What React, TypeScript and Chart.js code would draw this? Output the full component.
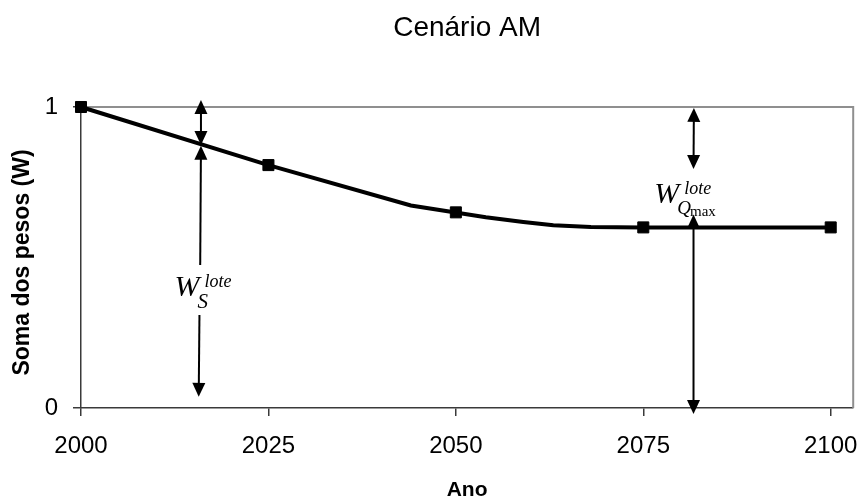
import React, { useEffect, useRef } from "react";
import { Chart, registerables } from "chart.js";

Chart.register(...registerables);

// ---- texts ----
const TITLE = "Cenário AM";
const X_TITLE = "Ano";
const Y_TITLE = "Soma dos pesos (W)";

// ---- data ----
const curveYears = [2000, 2025, 2044, 2054, 2059, 2063, 2068, 2075, 2100];
const curveValues = [1.0, 0.807, 0.673, 0.634, 0.618, 0.607, 0.601, 0.6, 0.6];
const markerYears = [2000, 2025, 2050, 2075, 2100];
const markerValues = [1.0, 0.807, 0.65, 0.6, 0.6];
const xTickValues = [2000, 2025, 2050, 2075, 2100];
const yTickValues = [0, 1];
const xMin = 2000;
const xMax = 2103;
const yMin = 0;
const yMax = 1;

// ---- annotation arrows (data units) ----
const arrowStartYears = [2016, 2016, 2015.8, 2081.75, 2081.7];
const arrowStartValues = [1.023, 0.871, 0.309, 0.997, 0.643];
const arrowEndYears = [2016, 2015.9, 2015.7, 2081.7, 2081.7];
const arrowEndValues = [0.874, 0.475, 0.037, 0.794, -0.02];
const arrowHeadStart = [true, true, false, true, true];
const arrowHeadEnd = [true, false, true, true, true];

// ---- annotation labels (anchor = left/baseline of the "W") ----
const labelYears = [2012.6, 2076.6];
const labelValues = [0.375, 0.684];
const labelSubs = ["S", "Q"];
const labelSubExtra = ["", "max"];
const labelSup = "lote";

const SANS = '"Liberation Sans", Arial, Helvetica, sans-serif';
const SERIF = '"Liberation Serif", "Times New Roman", Times, serif';
const AXIS_COLOR = "#3a3a3a";
const FRAME_COLOR = "#8f8f8f";

function drawArrow(
  ctx: CanvasRenderingContext2D,
  x1: number,
  y1: number,
  x2: number,
  y2: number,
  h1: boolean,
  h2: boolean
) {
  const L = 14;
  const W = 6.5;
  const dx = x2 - x1;
  const dy = y2 - y1;
  const len = Math.hypot(dx, dy) || 1;
  const ux = dx / len;
  const uy = dy / len;
  const px = -uy;
  const py = ux;
  const sx = h1 ? x1 + ux * (L - 2) : x1;
  const sy = h1 ? y1 + uy * (L - 2) : y1;
  const ex = h2 ? x2 - ux * (L - 2) : x2;
  const ey = h2 ? y2 - uy * (L - 2) : y2;
  ctx.save();
  ctx.strokeStyle = "#000";
  ctx.fillStyle = "#000";
  ctx.lineWidth = 2;
  ctx.beginPath();
  ctx.moveTo(sx, sy);
  ctx.lineTo(ex, ey);
  ctx.stroke();
  const head = (tx: number, ty: number, dirx: number, diry: number) => {
    const bx = tx - dirx * L;
    const by = ty - diry * L;
    ctx.beginPath();
    ctx.moveTo(tx, ty);
    ctx.lineTo(bx + px * W, by + py * W);
    ctx.lineTo(bx - px * W, by - py * W);
    ctx.closePath();
    ctx.fill();
  };
  if (h1) head(x1, y1, -ux, -uy);
  if (h2) head(x2, y2, ux, uy);
  ctx.restore();
}

const overlayPlugin = {
  id: "overlay",
  beforeDatasetsDraw(chart: any) {
    const { ctx, chartArea } = chart;
    ctx.save();
    ctx.strokeStyle = FRAME_COLOR;
    ctx.lineWidth = 2;
    ctx.beginPath();
    ctx.moveTo(chartArea.left, chartArea.top);
    ctx.lineTo(chartArea.right, chartArea.top);
    ctx.lineTo(chartArea.right, chartArea.bottom);
    ctx.stroke();
    ctx.restore();
  },
  afterDatasetsDraw(chart: any) {
    const { ctx, chartArea, scales } = chart;
    const xs = scales.x;
    const ys = scales.y;
    for (let i = 0; i < arrowStartYears.length; i++) {
      drawArrow(
        ctx,
        xs.getPixelForValue(arrowStartYears[i]),
        ys.getPixelForValue(arrowStartValues[i]),
        xs.getPixelForValue(arrowEndYears[i]),
        ys.getPixelForValue(arrowEndValues[i]),
        arrowHeadStart[i],
        arrowHeadEnd[i]
      );
    }
    ctx.save();
    ctx.fillStyle = "#000";
    ctx.textBaseline = "alphabetic";
    ctx.textAlign = "left";
    for (let i = 0; i < labelYears.length; i++) {
      const x = xs.getPixelForValue(labelYears[i]);
      const y = ys.getPixelForValue(labelValues[i]);
      ctx.font = `italic 30px ${SERIF}`;
      ctx.fillText("W", x - 1, y + 1);
      ctx.font = `italic 18px ${SERIF}`;
      ctx.fillText(labelSup, x + 29, y - 8);
      if (labelSubExtra[i]) {
        ctx.font = `italic 19px ${SERIF}`;
        ctx.fillText(labelSubs[i], x + 22, y + 12);
        const qw = ctx.measureText(labelSubs[i]).width;
        ctx.font = `15px ${SERIF}`;
        ctx.fillText(labelSubExtra[i], x + 21 + qw, y + 14);
      } else {
        ctx.font = `italic 21px ${SERIF}`;
        ctx.fillText(labelSubs[i], x + 22, y + 13);
      }
    }
    // chart title, centred over the plot area
    ctx.font = `28px ${SANS}`;
    ctx.textAlign = "center";
    ctx.fillText(TITLE, (chartArea.left + chartArea.right) / 2, 36);
    // y-axis title (rotated), slightly below the plot-area centre as in the source
    ctx.save();
    ctx.translate(23, (chartArea.top + chartArea.bottom) / 2 + 5);
    ctx.rotate(-Math.PI / 2);
    ctx.font = `bold 23px ${SANS}`;
    ctx.textAlign = "center";
    ctx.textBaseline = "middle";
    ctx.fillText(Y_TITLE, 0, 0);
    ctx.restore();
    ctx.restore();
  },
};

export default function App() {
  const ref = useRef<HTMLCanvasElement>(null);

  useEffect(() => {
    document.body.style.margin = "0";
    const canvas = ref.current;
    if (!canvas) return;

    const chart = new Chart(canvas, {
      type: "line",
      data: {
        datasets: [
          {
            label: "markers",
            data: markerYears.map((x, i) => ({ x, y: markerValues[i] })),
            showLine: false,
            pointStyle: "rect",
            pointRadius: 7.8,
            pointBackgroundColor: "#000",
            pointBorderColor: "#000",
            pointBorderWidth: 1,
            clip: false,
            order: 0,
          },
          {
            label: "W",
            data: curveYears.map((x, i) => ({ x, y: curveValues[i] })),
            borderColor: "#000",
            borderWidth: 4,
            pointRadius: 0,
            tension: 0,
            fill: false,
            clip: false,
            order: 1,
          },
        ],
      },
      options: {
        responsive: false,
        animation: false,
        layout: { padding: { top: 107, right: 6, bottom: 0, left: 0 } },
        plugins: {
          legend: { display: false },
          tooltip: { enabled: false },
          title: { display: false },
        },
        scales: {
          x: {
            type: "linear",
            min: xMin,
            max: xMax,
            afterBuildTicks: (s: any) => {
              s.ticks = xTickValues.map((v) => ({ value: v }));
            },
            afterFit: (s: any) => {
              s.height = 93;
              s.paddingLeft = 0;
              s.paddingRight = 0;
            },
            ticks: {
              color: "#000",
              font: { family: SANS, size: 24 },
              padding: 16,
              autoSkip: false,
              maxRotation: 0,
              callback: (v: any) => String(v),
            },
            grid: {
              display: true,
              drawOnChartArea: false,
              drawTicks: true,
              tickLength: 8,
              color: AXIS_COLOR,
              lineWidth: 1.5,
            },
            border: { display: true, color: AXIS_COLOR, width: 1.5 },
            title: {
              display: true,
              text: X_TITLE,
              color: "#000",
              font: { family: SANS, size: 21, weight: "bold" },
              padding: { top: 0, bottom: -2 },
            },
          },
          y: {
            type: "linear",
            min: yMin,
            max: yMax,
            afterBuildTicks: (s: any) => {
              s.ticks = yTickValues.map((v) => ({ value: v }));
            },
            afterFit: (s: any) => {
              s.width = 81;
              s.paddingTop = 0;
              s.paddingBottom = 0;
            },
            ticks: {
              color: "#000",
              font: { family: SANS, size: 24 },
              padding: 15,
              callback: (v: any) => String(v),
            },
            grid: {
              display: true,
              drawOnChartArea: false,
              drawTicks: true,
              tickLength: 8,
              color: AXIS_COLOR,
              lineWidth: 1.5,
            },
            border: { display: true, color: AXIS_COLOR, width: 1.5 },
            title: { display: false, text: Y_TITLE },
          },
        },
      },
      plugins: [overlayPlugin],
    } as any);

    return () => chart.destroy();
  }, []);

  return (
    <div style={{ width: 862, height: 501 }}>
      <canvas ref={ref} width={862} height={501} style={{ display: "block" }} />
    </div>
  );
}
